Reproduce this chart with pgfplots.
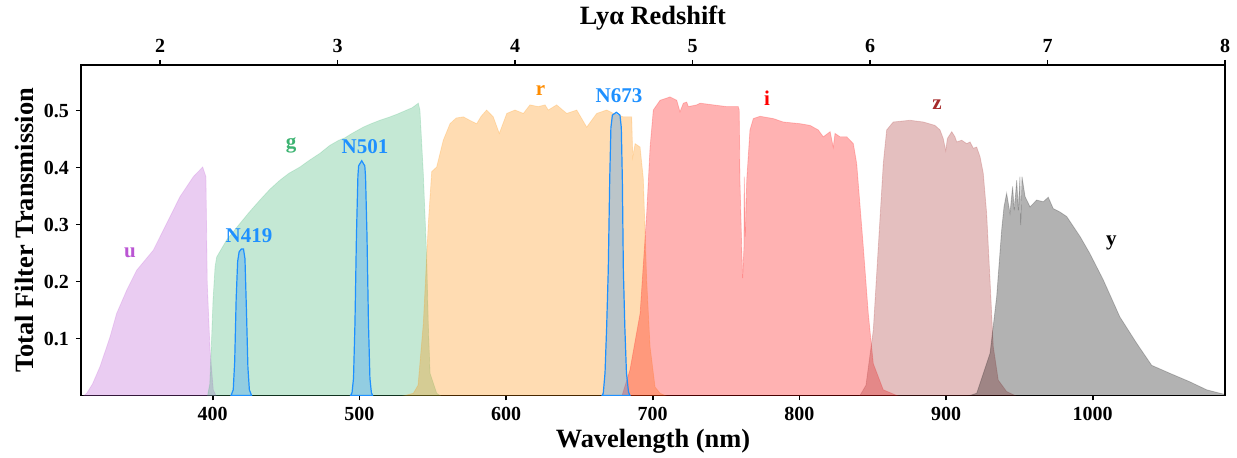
\documentclass[border=0pt]{standalone}
\usepackage{fontspec}
\setmainfont{Liberation Serif}
\usepackage{pgfplots}
\pgfplotsset{compat=1.18}
\definecolor{uC}{RGB}{186,85,211}
\definecolor{gC}{RGB}{60,179,113}
\definecolor{rC}{RGB}{255,140,0}
\definecolor{iC}{RGB}{255,0,0}
\definecolor{zC}{RGB}{165,42,42}
\definecolor{yC}{RGB}{0,0,0}
\definecolor{nC}{RGB}{30,144,255}
\pgfplotsset{
  bb/.style={fill=#1, fill opacity=0.3, draw=#1, draw opacity=0.2, line width=0.4pt},
  nb/.style={fill=nC, fill opacity=0.3, draw=nC, draw opacity=1, line width=0.6pt},
}
\begin{document}
\begin{tikzpicture}
\begin{axis}[
  scale only axis, width=572pt, height=165.25pt,
  xmin=310.2, xmax=1090.2, ymin=0, ymax=0.58,
  xtick={400,500,600,700,800,900,1000},
  ytick={0.1,0.2,0.3,0.4,0.5},
  xtick pos=bottom, ytick pos=left,
  tick align=outside, major tick length=2.5pt,
  axis line style={line width=0.9pt},
  every tick/.style={black, line width=0.8pt},
  /pgf/number format/assume math mode=true,
  /pgf/number format/1000 sep={},
  yticklabel style={/pgf/number format/.cd, fixed, fixed zerofill, precision=1},
  ticklabel style={font=\bfseries\fontsize{10}{12}\selectfont},
  xlabel={Wavelength (nm)},
  ylabel={Total Filter Transmission},
  xlabel style={font=\bfseries\fontsize{13.2}{15}\selectfont, at={(axis description cs:0.5,0)}, anchor=center, yshift=-23pt},
  ylabel style={font=\bfseries\fontsize{13.2}{15}\selectfont, at={(axis description cs:-0.0498,0.5)}, anchor=center},
  clip=true,
]
% u
\addplot[bb=uC] coordinates {
(312.3,0) (314.1,0.004) (318,0.02) (323.2,0.051) (330.0,0.103) (334.5,0.144) (341.4,0.185)
(348.2,0.220) (359.5,0.255) (368.6,0.302) (377.7,0.349) (386.8,0.384) (393.2,0.401)
(395.4,0.384) (396.3,0.197) (398.2,0.080) (400.4,0.010) (402.2,0)
} \closedcycle;
% g
\addplot[bb=gC] coordinates {
(396.5,0) (398.0,0.02) (399.2,0.097) (400.2,0.167) (401.6,0.226)
(402.7,0.243) (409.5,0.273) (418.6,0.302) (425,0.322) (432.2,0.343) (439,0.362) (445.9,0.378)
(452,0.390) (459.5,0.401) (466,0.413) (473.1,0.425) (479.9,0.439) (486,0.448) (490,0.452) (495,0.460)
(502.7,0.471) (508,0.477) (514,0.483) (520.9,0.489) (526,0.494) (532.3,0.501) (536,0.505)
(540.2,0.513) (541.3,0.501) (543.6,0.390) (545.9,0.243) (547.0,0.127) (548.2,0.039)
(552.7,0.004) (555,0)
} \closedcycle;
% r
\addplot[bb=rC] coordinates {
(531.1,0) (536.8,0.004) (540.0,0.018) (543.6,0.127) (547.0,0.302) (549.3,0.393)
(552.7,0.401) (557.2,0.448) (561.8,0.477) (566,0.487) (570.9,0.489) (576,0.482) (580.0,0.477)
(583,0.490) (586.8,0.501) (591.3,0.489) (595.4,0.460) (600.5,0.495) (606.1,0.501)
(611.8,0.495) (616.3,0.510) (622.0,0.507) (626.6,0.510) (628.8,0.501) (634.5,0.510)
(641.4,0.495) (648.2,0.501) (655.0,0.471) (661.8,0.495) (668.6,0.501) (674,0.494) (680.0,0.489)
(685.7,0.489) (686.4,0.419) (688.0,0.442) (691.4,0.436) (693.6,0.381) (695.9,0.203)
(698.2,0.086) (701.6,0.015) (705.0,0.004) (708.4,0)
} \closedcycle;
% i
\addplot[bb=iC] coordinates {
(679.1,0) (684.5,0.045) (691.4,0.144) (695.9,0.320) (698.2,0.436) (700.4,0.501)
(705.0,0.518) (711.8,0.524) (716.4,0.518) (718.6,0.498) (720.9,0.513) (723.2,0.515)
(724.3,0.507) (730.0,0.510) (732.3,0.513) (741.3,0.510) (750.4,0.507) (758.3,0.507)
(759.0,0.501) (759.5,0.378) (760.7,0.261) (761.3,0.206) (762.2,0.261) (762.4,0.384)
(763.1,0.279) (764.1,0.378) (766.3,0.466) (768.6,0.486) (773.2,0.490) (782.2,0.486)
(789.0,0.480) (800.5,0.477) (807.3,0.474) (812.9,0.466) (816.3,0.454) (821.0,0.463)
(823.1,0.436) (824.3,0.460) (827.7,0.454) (832.3,0.454) (836.8,0.442) (839.1,0.407)
(843.6,0.261) (847.0,0.144) (850.4,0.056) (857.2,0.010) (866.4,0)
} \closedcycle;
% z
\addplot[bb=zC] coordinates {
(841.3,0) (845.4,0.018) (850.4,0.115) (853.8,0.261) (857.2,0.407) (859.5,0.466)
(864.0,0.480) (875.4,0.483) (884.5,0.480) (892.5,0.474) (895.9,0.466) (898.1,0.451)
(899.8,0.430) (900.9,0.451) (903.9,0.463) (906.1,0.454) (907.3,0.445) (910.7,0.448)
(914.1,0.442) (916.4,0.445) (918.6,0.434) (920.9,0.436) (923.2,0.419) (925.4,0.390)
(927.7,0.320) (930.0,0.203) (932.2,0.086) (935.6,0.027) (941.3,0.007) (947.0,0)
} \closedcycle;
% y
\addplot[bb=yC] coordinates {
(916.3,0) (920.9,0.004) (930.0,0.074) (934.5,0.173) (937.9,0.290) (939.5,0.331)
(941.3,0.355) (943.6,0.320) (945.4,0.367) (946.5,0.325) (948.2,0.378) (949.3,0.325)
(950.4,0.384) (950.9,0.299) (951.8,0.384) (953.9,0.349) (957.3,0.331) (961.8,0.343)
(966.3,0.340) (969.7,0.348) (973.1,0.328) (977.7,0.322) (982.3,0.314) (991.4,0.279)
(998.1,0.249) (1007.2,0.203) (1018.5,0.138) (1029.9,0.092) (1040.2,0.053)
(1052.6,0.039) (1066.3,0.024) (1077.7,0.010) (1086.7,0.004) (1090.1,0.002)
} \closedcycle;
% N419
\addplot[nb] coordinates {
(412.5,0) (414,0.01) (415,0.06) (416,0.17) (417,0.235) (418,0.252) (419.5,0.257)
(421,0.257) (422,0.24) (423,0.15) (424,0.05) (425,0.01) (426.5,0)
} \closedcycle;
% N501
\addplot[nb] coordinates {
(494,0) (495,0.005) (496,0.03) (497,0.127) (498,0.28) (499,0.385) (499.5,0.403)
(501.6,0.412) (503.7,0.403) (504.2,0.385) (505.2,0.28) (506.2,0.127) (507.2,0.03)
(508.2,0.005) (509,0)
} \closedcycle;
% N673
\addplot[nb] coordinates {
(665.5,0) (666.3,0.004) (667.5,0.04) (668.6,0.12) (669.7,0.22) (670.7,0.38) (671.5,0.47)
(672.5,0.492) (675.2,0.497) (677.7,0.492) (678.6,0.47) (679.3,0.38) (680.0,0.22)
(681.0,0.12) (682.1,0.04) (683.5,0.006) (684.5,0)
} \closedcycle;
\begin{scope}[every node/.style={font=\bfseries\fontsize{10.5}{12}\selectfont}]
\node[text=uC] at (axis cs:343.6,0.250) {u};
\node[text=gC] at (axis cs:453.4,0.438) {g};
\node[text=rC] at (axis cs:623.5,0.536) {r};
\node[text=iC] at (axis cs:777.9,0.522) {i};
\node[text=zC] at (axis cs:893.8,0.511) {z};
\node[text=black] at (axis cs:1012.7,0.268) {y};
\node[text=nC] at (axis cs:424.7,0.280) {N419};
\node[text=nC] at (axis cs:503.8,0.436) {N501};
\node[text=nC] at (axis cs:677.0,0.527) {N673};
\end{scope}
\end{axis}
\begin{axis}[
  scale only axis, width=572pt, height=165.25pt,
  xmin=1.554, xmax=8.0, ymin=0, ymax=1,
  axis x line*=top, hide y axis,
  xtick={2,3,4,5,6,7,8},
  tick align=outside, major tick length=2.5pt,
  axis line style={line width=0.9pt},
  every tick/.style={black, line width=0.8pt},
  /pgf/number format/assume math mode=true,
  ticklabel style={font=\bfseries\fontsize{10}{12}\selectfont},
  xlabel={Lyα Redshift},
  xlabel style={font=\bfseries\fontsize{13.2}{15}\selectfont, at={(axis description cs:0.5,1)}, anchor=center, yshift=23.5pt},
]
\addplot[draw=none] coordinates {(2,0.5)};
\end{axis}
\pgfresetboundingbox
\path ([xshift=-40.5pt,yshift=-31.25pt]current axis.south west) rectangle ([xshift=6pt,yshift=32.5pt]current axis.north east);
\end{tikzpicture}
\end{document}
